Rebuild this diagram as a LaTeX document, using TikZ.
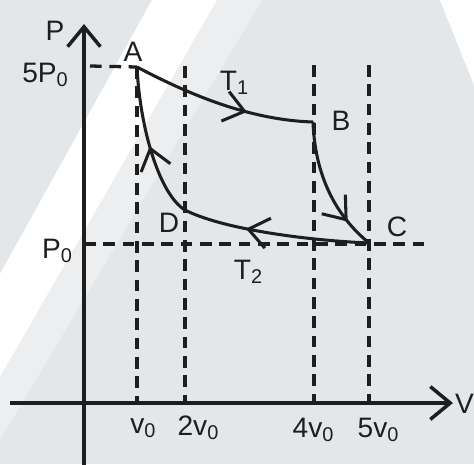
\documentclass[tikz,border=0pt]{standalone}
\usepackage{fontspec}
\setmainfont{Liberation Sans}
\definecolor{bggray}{RGB}{228,231,234}
\definecolor{bglight}{RGB}{236,238,240}
\definecolor{inkgray}{RGB}{30,30,30}
\usetikzlibrary{arrows.meta,decorations.markings}
\newcommand{\lo}[1]{\raisebox{-0.3ex}{\fontsize{17}{17}\selectfont #1}}

\begin{document}
\begin{tikzpicture}[x=0.03cm, y=-0.03cm,
    axis/.style={line width=3pt, draw=inkgray, -{Straight Barb[length=17pt,width=28pt]}},
    guide/.style={line width=2.8pt, draw=inkgray, dash pattern=on 10pt off 6.5pt},
    proc/.style={line width=2.6pt, draw=inkgray, postaction={decorate}},
    midarrow/.style={decoration={markings,
        mark=at position #1 with {\arrow{Straight Barb[length=17pt,width=26pt]}}}},
    lbl/.style={font=\fontsize{24}{28}\selectfont, text=inkgray, inner sep=0pt}
  ]
    \useasboundingbox (0,0) rectangle (474,464);

    % Background
    \fill[bggray]  (0,0) rectangle (474,464);
    \fill[bglight] (217,0) -- (262,0) -- (0,440) -- (0,377) -- cycle;
    \fill[white]   (152,0) -- (217,0) -- (0,377) -- (0,274) -- cycle;
    \fill[white]   (440,0) -- (474,0) -- (474,85) -- cycle;

    % Points of the cycle
    \coordinate (A) at (137,67);
    \coordinate (B) at (313,122);
    \coordinate (C) at (369,243);
    \coordinate (D) at (185,210);

    % Axes
    \coordinate (O)    at (84,403);
    \coordinate (ybot) at (84,470);
    \coordinate (ytop) at (84,24);
    \coordinate (xlft) at (10,403);
    \coordinate (xrgt) at (453,403);

    % Guide lines
    \coordinate (p5l) at (90,66);
    \coordinate (p0l) at (84,244);
    \coordinate (p0r) at (425,244);
    \coordinate (v1b) at (137,403);
    \coordinate (v2t) at (185,66);
    \coordinate (v2b) at (185,403);
    \coordinate (v4t) at (314,65);
    \coordinate (v4b) at (314,403);
    \coordinate (v5t) at (369,65);
    \coordinate (v5b) at (369,403);

    \draw[guide] (p5l) -- (A);
    \draw[guide] (p0l) -- (p0r);
    \draw[guide] (A)   -- (v1b);
    \draw[guide] (v2t) -- (v2b);
    \draw[guide] (v4t) -- (v4b);
    \draw[guide] (v5t) -- (v5b);

    \draw[axis] (ybot) -- (ytop);
    \draw[axis] (xlft) -- (xrgt);

    % Processes
    \draw[proc, midarrow=0.64] (A) .. controls (190,95) and (250,120) .. (B);
    \draw[proc, midarrow=0.78] (B) .. controls (315,175) and (335,215) .. (C);
    \draw[proc, midarrow=0.66] (C) .. controls (300,240) and (220,228) .. (D);
    \draw[proc, midarrow=0.48] (D) .. controls (160,195) and (140,130) .. (A);

    % Labels
    \node[lbl] (lP)   at (55,31)   {P};
    \node[lbl] (lV)   at (474,404) [anchor=east] {V};
    \node[lbl] (l5P)  at (45,75)   {5P\lo{0}};
    \node[lbl] (lP0)  at (57,251)  {P\lo{0}};
    \node[lbl] (lA)   at (133,52)  {A};
    \node[lbl] (lB)   at (341,121) {B};
    \node[lbl] (lC)   at (397,227) {C};
    \node[lbl] (lD)   at (169,223) {D};
    \node[lbl] (lT1)  at (234,83)  {T\lo{1}};
    \node[lbl] (lT2)  at (248,272) {T\lo{2}};
    \node[lbl] (lv1)  at (143,428) {v\lo{0}};
    \node[lbl] (lv2)  at (198,428) {2v\lo{0}};
    \node[lbl] (lv4)  at (313,430) {4v\lo{0}};
    \node[lbl] (lv5)  at (378,430) {5v\lo{0}};
  \end{tikzpicture}
\end{document}
